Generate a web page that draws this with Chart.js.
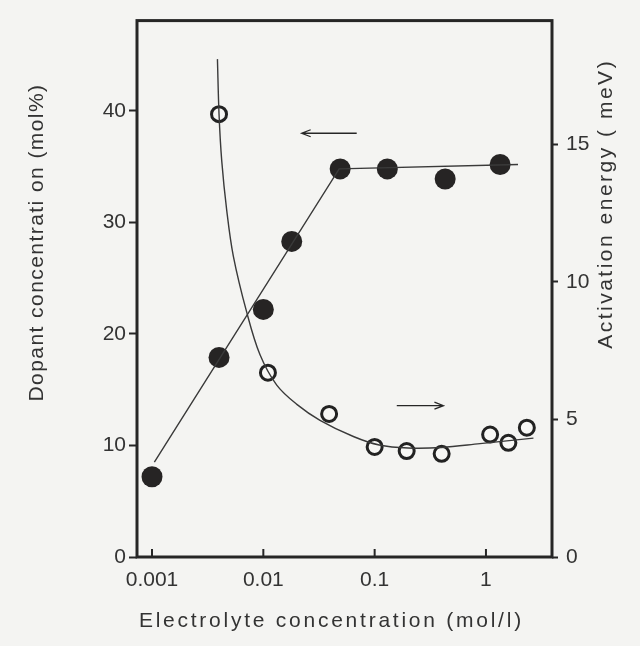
<!DOCTYPE html>
<html>
<head>
<meta charset="utf-8">
<script src="https://cdn.jsdelivr.net/npm/chart.js@4.4.1/dist/chart.umd.min.js"></script>
<style>
  html, body { margin: 0; padding: 0; background: #f4f4f2; }
  #wrap { width: 640px; height: 646px; }
</style>
</head>
<body>
<div id="wrap"><canvas id="chart"></canvas></div>
<script>
// dopant concentration (filled circles, left axis)
const dopantX = [0.001, 0.004, 0.01, 0.018, 0.049, 0.13, 0.43, 1.34];
const dopantY = [7.2, 17.9, 22.2, 28.3, 34.8, 34.8, 33.9, 35.2];
const dopantFitX = [0.00105, 0.048, 1.94];
const dopantFitY = [8.5, 34.8, 35.2];

// activation energy (open circles, right axis)
const energyX = [0.0040, 0.011, 0.039, 0.1, 0.194, 0.40, 1.09, 1.59, 2.33];
const energyY = [16.1, 6.7, 5.2, 4.0, 3.85, 3.75, 4.45, 4.15, 4.7];
const energyFitX = [0.00387, 0.0040, 0.00423, 0.00469, 0.00537, 0.00709, 0.00934, 0.0132, 0.02, 0.0323, 0.0644, 0.11, 0.2, 0.4, 0.885, 2.67];
const energyFitY = [18.1, 16.1, 14.4, 12.6, 10.95, 8.9, 7.35, 6.25, 5.55, 4.97, 4.38, 4.07, 3.96, 3.98, 4.12, 4.32];

const xTicks = [0.001, 0.01, 0.1, 1];
const xTickLabels = ['0.001', '0.01', '0.1', '1'];
const leftTicks = [0, 10, 20, 30, 40];
const rightTicks = [0, 5, 10, 15];

// arrows: which axis they point to
const arrowFromX = [0.069, 0.158];
const arrowToX = [0.0221, 0.415];
const arrowY = [38.0, 5.5];
const arrowAxis = ['y', 'y2'];

const ink = '#262626';
const fontFamily = '"Liberation Sans", Arial, sans-serif';

const toPoints = (xs, ys) => xs.map((x, i) => ({ x: x, y: ys[i] }));

// text stretched to a given width (the scan uses wide letter spacing)
function spacedText(ctx, text, cx, cy, rot, width) {
  ctx.save();
  ctx.letterSpacing = '0px';
  const w = ctx.measureText(text).width;
  const sp = Math.max(0, (width - w) / text.length);
  ctx.letterSpacing = sp + 'px';
  ctx.translate(cx, cy);
  ctx.rotate(rot);
  ctx.textAlign = 'center';
  ctx.textBaseline = 'middle';
  ctx.fillText(text, sp / 2, 0);
  ctx.restore();
}

const framePlugin = {
  id: 'frame',
  beforeDraw(chart) {
    const ctx = chart.ctx;
    ctx.save();
    ctx.fillStyle = '#f4f4f2';
    ctx.fillRect(0, 0, chart.width, chart.height);
    ctx.restore();
  },
  afterDatasetsDraw(chart) {
    const { ctx, chartArea: a, scales } = chart;
    ctx.save();
    ctx.strokeStyle = ink;
    ctx.lineWidth = 3;
    ctx.strokeRect(a.left, a.top, a.right - a.left, a.bottom - a.top);

    // inward ticks on the bottom axis
    ctx.lineWidth = 2;
    xTicks.forEach(v => {
      const px = scales.x.getPixelForValue(v);
      ctx.beginPath();
      ctx.moveTo(px, a.bottom);
      ctx.lineTo(px, a.bottom - 8);
      ctx.stroke();
    });

    // arrows
    ctx.lineWidth = 1.3;
    arrowFromX.forEach((fx, i) => {
      const ys = scales[arrowAxis[i]];
      const x0 = scales.x.getPixelForValue(fx);
      const x1 = scales.x.getPixelForValue(arrowToX[i]);
      const y = ys.getPixelForValue(arrowY[i]);
      const dir = x1 > x0 ? 1 : -1;
      ctx.beginPath();
      ctx.moveTo(x0, y);
      ctx.lineTo(x1, y);
      ctx.moveTo(x1 - dir * 9, y - 3.5);
      ctx.lineTo(x1, y);
      ctx.lineTo(x1 - dir * 9, y + 3.5);
      ctx.stroke();
    });

    // axis titles
    ctx.fillStyle = '#333';
    ctx.font = '21px ' + fontFamily;
    const h = a.bottom - a.top;
    spacedText(ctx, 'Dopant concentrati on (mol%)', 37, a.top + h * 0.415, -Math.PI / 2, 318);
    spacedText(ctx, 'Activation energy ( meV)', 606, a.top + h * 0.344, -Math.PI / 2, 290);
    spacedText(ctx, 'Electrolyte concentration (mol/l)', 330, 621, 0, 385);
    ctx.restore();
  }
};

new Chart(document.getElementById('chart'), {
  type: 'scatter',
  data: {
    datasets: [
      {
        label: 'dopant fit',
        data: toPoints(dopantFitX, dopantFitY),
        yAxisID: 'y',
        showLine: true,
        borderColor: '#3a3a3a',
        borderWidth: 1.4,
        pointRadius: 0,
        tension: 0
      },
      {
        label: 'energy fit',
        data: toPoints(energyFitX, energyFitY),
        yAxisID: 'y2',
        showLine: true,
        borderColor: '#3a3a3a',
        borderWidth: 1.4,
        pointRadius: 0,
        tension: 0.35
      },
      {
        label: 'Dopant concentration',
        data: toPoints(dopantX, dopantY),
        yAxisID: 'y',
        pointRadius: 10.5,
        pointBackgroundColor: '#262424',
        pointBorderColor: '#262424',
        pointBorderWidth: 0
      },
      {
        label: 'Activation energy',
        data: toPoints(energyX, energyY),
        yAxisID: 'y2',
        pointRadius: 7.5,
        pointBackgroundColor: '#f7f7f5',
        pointBorderColor: '#222',
        pointBorderWidth: 3
      }
    ]
  },
  options: {
    responsive: true,
    maintainAspectRatio: false,
    devicePixelRatio: 1,
    animation: false,
    layout: { padding: { top: 16, left: 0, right: 0, bottom: 0 } },
    plugins: {
      legend: { display: false },
      tooltip: { enabled: false }
    },
    scales: {
      x: {
        type: 'logarithmic',
        min: 0.000733,
        max: 3.92,
        afterFit: s => { s.height = 89; },
        afterBuildTicks: s => { s.ticks = xTicks.map(v => ({ value: v })); },
        grid: { display: false, drawTicks: false },
        border: { display: false },
        ticks: {
          padding: 11,
          color: '#333',
          font: { family: fontFamily, size: 21 },
          maxRotation: 0,
          autoSkip: false,
          callback: (v) => xTickLabels[xTicks.indexOf(v)]
        }
      },
      y: {
        position: 'left',
        min: 0,
        max: 48.1,
        afterFit: s => { s.width = 137; },
        afterBuildTicks: s => { s.ticks = leftTicks.map(v => ({ value: v })); },
        grid: { drawOnChartArea: false, tickLength: 8, tickWidth: 2, color: ink },
        border: { display: false },
        ticks: {
          padding: 3,
          color: '#333',
          font: { family: fontFamily, size: 21 }
        }
      },
      y2: {
        position: 'right',
        min: 0,
        max: 19.5,
        afterFit: s => { s.width = 88; },
        afterBuildTicks: s => { s.ticks = rightTicks.map(v => ({ value: v })); },
        grid: { drawOnChartArea: false, tickLength: 6, tickWidth: 2, color: ink },
        border: { display: false },
        ticks: {
          padding: 8,
          color: '#333',
          font: { family: fontFamily, size: 21 }
        }
      }
    }
  },
  plugins: [framePlugin]
});
</script>
</body>
</html>
